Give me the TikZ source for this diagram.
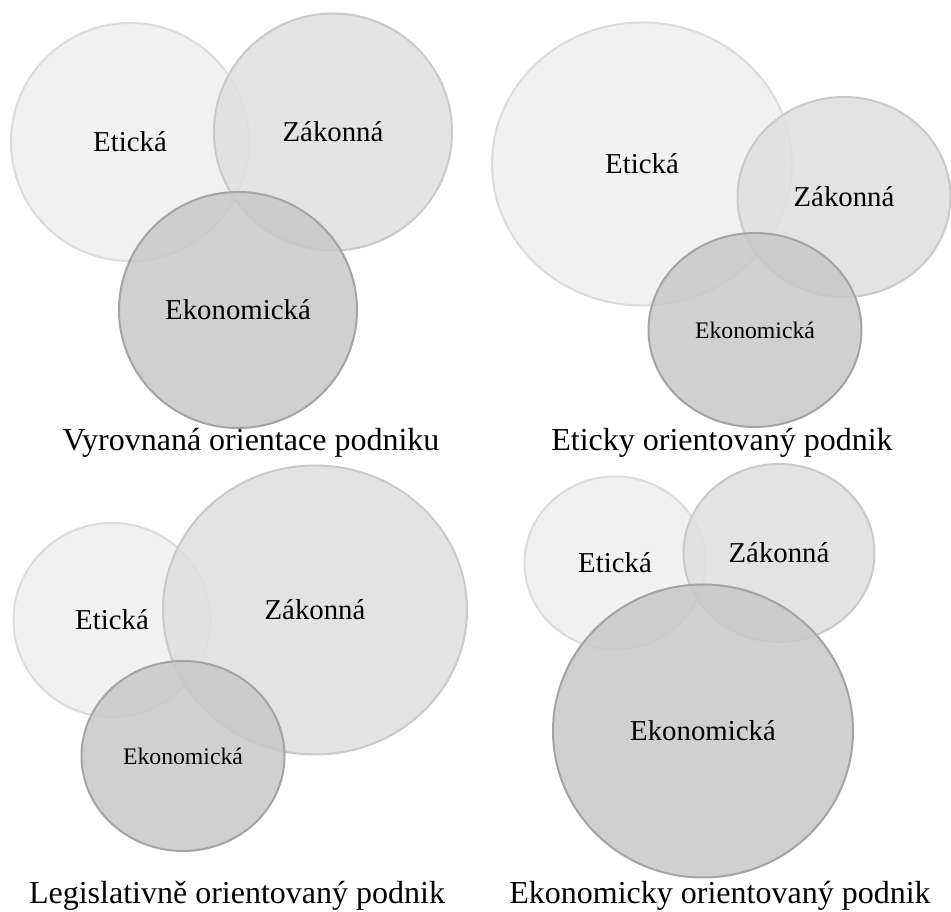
\documentclass[tikz,border=0pt]{standalone}
\usepackage{fontspec}
\setmainfont{Liberation Serif}
\usetikzlibrary{shapes.geometric}

\definecolor{etfill}{HTML}{EFEFEF}
\definecolor{etline}{HTML}{DCDCDC}
\definecolor{zafill}{HTML}{DFDFDF}
\definecolor{zaline}{HTML}{CACACA}
\definecolor{ekfill}{HTML}{C8C8C8}
\definecolor{ekline}{HTML}{A4A4A4}

\tikzset{
  setbox/.style={ellipse, inner sep=0pt, line width=1.5pt, fill opacity=0.85, text opacity=1},
  etset/.style={setbox, draw=etline, fill=etfill},
  zaset/.style={setbox, draw=zaline, fill=zafill},
  ekset/.style={setbox, draw=ekline, fill=ekfill},
  biglabel/.style={font=\fontsize{21.6}{26}\selectfont},
  smalllabel/.style={font=\fontsize{17.8}{21}\selectfont},
  caption/.style={font=\fontsize{24}{29}\selectfont, inner sep=0pt}
}

\begin{document}
\begin{tikzpicture}[x=0.75pt, y=-0.75pt]
  \useasboundingbox (0,0) rectangle (951,912);
  \fill[white] (0,0) rectangle (951,912);

  % balanced orientation
  \node[etset, biglabel, minimum width=238*0.75pt, minimum height=238*0.75pt] (tlE) at (130,142) {Etická};
  \node[zaset, biglabel, minimum width=238*0.75pt, minimum height=237*0.75pt] (tlZ) at (333,132) {Zákonná};
  \node[ekset, biglabel, minimum width=238*0.75pt, minimum height=236*0.75pt] (tlK) at (238,310) {Ekonomická};
  \node[caption] (tlC) at (251,443) {Vyrovnaná orientace podniku};

  % ethics-oriented
  \node[etset, biglabel, minimum width=300*0.75pt, minimum height=283*0.75pt] (trE) at (642,164) {Etická};
  \node[zaset, biglabel, minimum width=213*0.75pt, minimum height=200*0.75pt] (trZ) at (844,197) {Zákonná};
  \node[ekset, smalllabel, minimum width=213*0.75pt, minimum height=194*0.75pt] (trK) at (755,330) {Ekonomická};
  \node[caption] (trC) at (722,443) {Eticky orientovaný podnik};

  % law-oriented
  \node[etset, biglabel, minimum width=197*0.75pt, minimum height=194*0.75pt] (blE) at (112,620) {Etická};
  \node[zaset, biglabel, minimum width=304*0.75pt, minimum height=289*0.75pt] (blZ) at (315,610) {Zákonná};
  \node[ekset, smalllabel, minimum width=203*0.75pt, minimum height=190*0.75pt] (blK) at (183,756) {Ekonomická};
  \node[caption] (blC) at (237,896) {Legislativně orientovaný podnik};

  % economy-oriented
  \node[etset, biglabel, minimum width=181*0.75pt, minimum height=173*0.75pt] (brE) at (615,563) {Etická};
  \node[zaset, biglabel, minimum width=191*0.75pt, minimum height=178*0.75pt] (brZ) at (779,553) {Zákonná};
  \node[ekset, biglabel, minimum width=300*0.75pt, minimum height=293*0.75pt] (brK) at (703,731) {Ekonomická};
  \node[caption] (brC) at (720,896) {Ekonomicky orientovaný podnik};
\end{tikzpicture}
\end{document}
